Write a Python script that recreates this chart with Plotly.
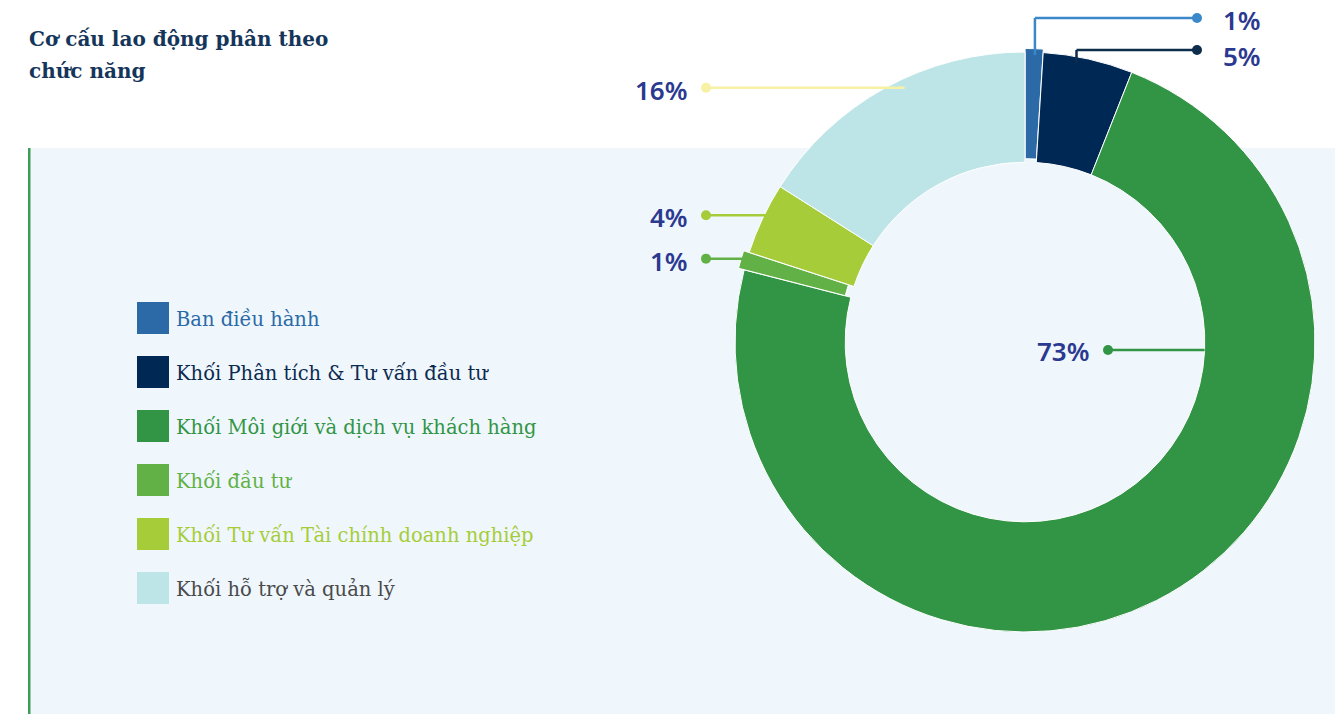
import math
import plotly.graph_objects as go

W, H = 1335, 714

# ---- data -------------------------------------------------------------
categories = [
    "Ban điều hành",
    "Khối Phân tích & Tư vấn đầu tư",
    "Khối Môi giới và dịch vụ khách hàng",
    "Khối đầu tư",
    "Khối Tư vấn Tài chính doanh nghiệp",
    "Khối hỗ trợ và quản lý",
]
shares = [1, 5, 73, 1, 4, 16]  # % of staff

# ---- styles -----------------------------------------------------------
slice_colors = ["#2b6aa6", "#002855", "#329545", "#62b146", "#a6cd39", "#bde4e6"]
legend_text_colors = ["#2b6aa6", "#0c2a4f", "#329545", "#62b146", "#a6cd39", "#4a4a4a"]
leader_colors = ["#3a87c9", "#0e2c4c", "#329545", "#62b146", "#a6cd39", "#f7f1a4"]
pulls = [0.012, 0, 0, 0.02, 0, 0]
value_color = "#2b3990"
title_color = "#15365a"

# ---- donut geometry (pixels) ----------------------------------------
CX, CY, R, HOLE = 1025, 342, 290, 0.62
half = R * (1 + max(pulls))


def px(x):
    return x / W


def py(y):
    return 1 - y / H


# where each value label hooks onto its slice
anchor_frac = [0.55, 0.38, 0.27, 0.64, 0.72, 0.56]   # position along the slice arc
anchor_rad = [0.99, 0.98, 0.62, 1.0, 0.92, 0.97]     # fraction of outer radius
dot_x = [1197, 1197, 1108, 706, 706, 706]
dot_y = [18, 50, None, None, None, None]             # None -> straight horizontal leader
label_side = ["right", "right", "left", "left", "left", "left"]
label_dy = [2, 6, 1, 2, 2, 2]                         # text baseline nudge below the dot

fig = go.Figure()
fig.add_trace(go.Pie(
    labels=categories,
    values=shares,
    hole=HOLE,
    sort=False,
    direction="clockwise",
    rotation=0,
    pull=pulls,
    marker=dict(colors=slice_colors, line=dict(color="#ffffff", width=1)),
    textinfo="none",
    hoverinfo="label+percent",
    showlegend=False,
    domain=dict(x=[px(CX - half), px(CX + half)], y=[py(CY + half), py(CY - half)]),
))

shapes = []
annotations = []

# light panel with a green rule on its left edge
shapes.append(dict(type="rect", xref="paper", yref="paper", layer="below",
                   x0=px(28), x1=1, y0=0, y1=py(148),
                   fillcolor="#eff7fd", line=dict(width=0)))
shapes.append(dict(type="rect", xref="paper", yref="paper", layer="below",
                   x0=px(28), x1=px(30.5), y0=0, y1=py(148),
                   fillcolor="#3f9c55", line=dict(width=0)))

# leader lines, dots and value labels
total = sum(shares)
start = 0.0
for i, v in enumerate(shares):
    a0 = start / total * 360
    a1 = (start + v) / total * 360
    start += v
    ang = math.radians(a0 + anchor_frac[i] * (a1 - a0))
    r = anchor_rad[i] * R
    ax = CX + r * math.sin(ang)
    ay = CY - r * math.cos(ang)
    col = leader_colors[i]
    lw = 2.5
    if dot_y[i] is not None:
        ey = dot_y[i]
        shapes.append(dict(type="line", xref="paper", yref="paper", layer="above",
                           x0=px(ax), y0=py(ay), x1=px(ax), y1=py(ey),
                           line=dict(color=col, width=lw)))
        shapes.append(dict(type="line", xref="paper", yref="paper", layer="above",
                           x0=px(ax), y0=py(ey), x1=px(dot_x[i]), y1=py(ey),
                           line=dict(color=col, width=lw)))
    else:
        ey = ay
        shapes.append(dict(type="line", xref="paper", yref="paper", layer="above",
                           x0=px(ax), y0=py(ey), x1=px(dot_x[i]), y1=py(ey),
                           line=dict(color=col, width=lw)))
    dr = 5
    shapes.append(dict(type="circle", xref="paper", yref="paper", layer="above",
                       x0=px(dot_x[i] - dr), x1=px(dot_x[i] + dr),
                       y0=py(ey + dr), y1=py(ey - dr),
                       fillcolor=col, line=dict(width=0)))
    if label_side[i] == "right":
        tx, xanchor = dot_x[i] + 24, "left"
    else:
        tx, xanchor = dot_x[i] - 16, "right"
    annotations.append(dict(
        xref="paper", yref="paper", x=px(tx), y=py(ey + label_dy[i]),
        xanchor=xanchor, yanchor="middle", showarrow=False,
        text=f"{v}%",
        font=dict(family="Noto Sans", size=26, color=value_color, weight=600),
    ))

# legend: coloured squares with matching text
for i, name in enumerate(categories):
    top = 302 + 54 * i
    shapes.append(dict(type="rect", xref="paper", yref="paper", layer="above",
                       x0=px(137), x1=px(169), y0=py(top + 32), y1=py(top),
                       fillcolor=slice_colors[i], line=dict(width=0)))
    annotations.append(dict(
        xref="paper", yref="paper", x=px(174), y=py(top + 17),
        xanchor="left", yanchor="middle", showarrow=False,
        text=name,
        font=dict(family="DejaVu Serif", size=19.5, color=legend_text_colors[i]),
    ))

# title
for j, line in enumerate(["Cơ cấu lao động phân theo", "chức năng"]):
    annotations.append(dict(
        xref="paper", yref="paper", x=px(27), y=py(39 + 32 * j),
        xanchor="left", yanchor="middle", showarrow=False,
        text=f"<b>{line}</b>",
        font=dict(family="DejaVu Serif", size=20, color=title_color),
    ))

fig.update_layout(
    width=W, height=H,
    margin=dict(l=0, r=0, t=0, b=0),
    paper_bgcolor="#ffffff",
    plot_bgcolor="#ffffff",
    shapes=shapes,
    annotations=annotations,
)

fig.write_html("out.html", config={"displayModeBar": False})
